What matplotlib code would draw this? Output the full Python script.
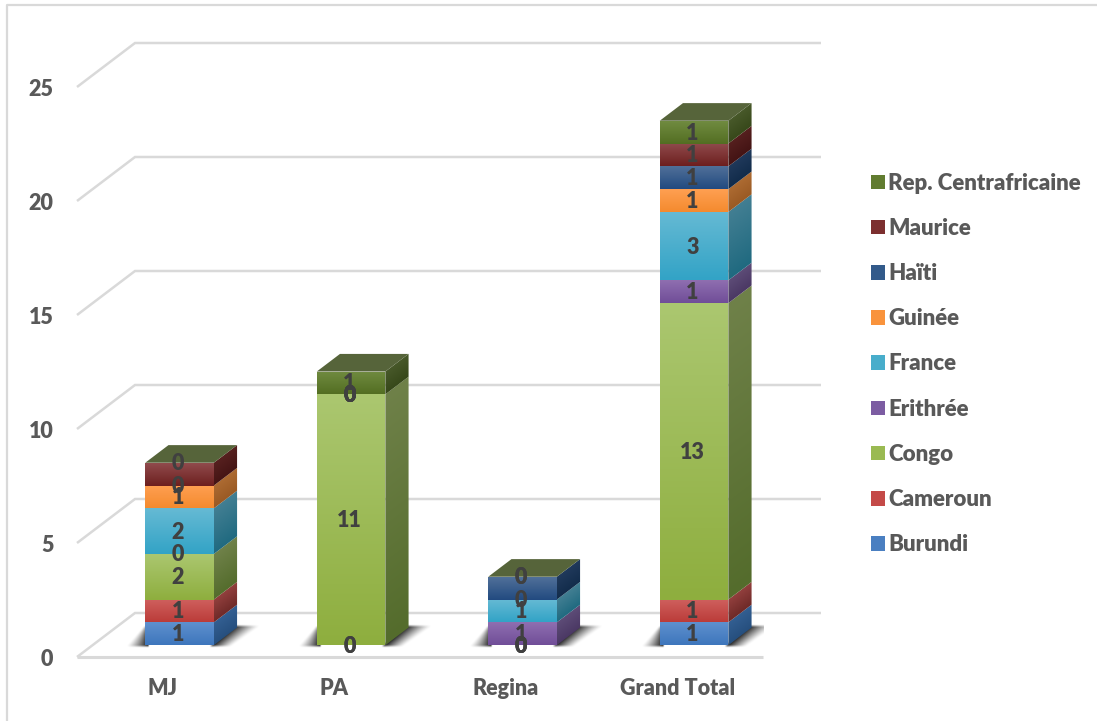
import numpy as np
import matplotlib
matplotlib.use('Agg')
import matplotlib.pyplot as plt
from matplotlib.colors import to_rgb
from matplotlib.lines import Line2D
from matplotlib.patches import Patch, Polygon

plt.rcParams['font.family'] = ['Lato', 'DejaVu Sans']
plt.rcParams['font.weight'] = 'heavy'

categories = ['MJ', 'PA', 'Regina', 'Grand Total']
y_ticks = [0, 5, 10, 15, 20, 25]

burundi = [1, 0, 0, 1]
cameroun = [1, 0, 0, 1]
congo = [2, 11, 0, 13]
erithree = [0, 0, 1, 1]
france = [2, 0, 1, 3]
guinee = [1, 0, 0, 1]
haiti = [0, 0, 1, 1]
maurice = [1, 0, 0, 1]
rep = [0, 1, 0, 1]

names = ['Burundi', 'Cameroun', 'Congo', 'Erithrée', 'France', 'Guinée', 'Haïti', 'Maurice',
         'Rep. Centrafricaine']
series = [burundi, cameroun, congo, erithree, france, guinee, haiti, maurice, rep]

# front top, front bottom, side top, side bottom
colors = [('#5f90ce', '#3d76bc', '#335f92', '#264f7e'),
          ('#cf605e', '#bb3c39', '#93403e', '#6f2a28'),
          ('#abc770', '#8eae3e', '#6f8149', '#546c2c'),
          ('#8f6fb0', '#704d98', '#5d4c77', '#4b3864'),
          ('#66bad4', '#32a3c6', '#437f93', '#206a80'),
          ('#ffa052', '#f48a2e', '#ad6b32', '#9a5a24'),
          ('#517099', '#214a80', '#20395b', '#122c4b'),
          ('#904b4d', '#6d1f1e', '#56201f', '#441414'),
          ('#708b40', '#536e22', '#48592a', '#37481a')]
top_color = '#56643a'
legend_colors = ['#4a7fc1', '#c44a48', '#9aba52', '#7c5ca2', '#48adcb', '#f9933c', '#325a8a', '#7c2f2f',
                 '#617c30']
grid_color = '#d9d9d9'
text_color = '#595959'
label_color = '#404040'

# labels missing in the original chart
hidden = [(0, 7), (2, 6)]

# depth of the 3d floor in data units
dx = 58 / 171.5
dy = 44 / 22.8
d0 = 0.29
d1 = 0.69
base = 0.27 * dy
width = 0.40
shift_x = (d1 - d0) * dx
shift_y = (d1 - d0) * dy


def gradient(ax, pts, c0, c1, shear=0.0):
    # fill polygon with a top to bottom gradient, shear follows the slope of side faces
    pts = np.array(pts)
    x0, x1 = pts[:, 0].min(), pts[:, 0].max()
    y0, y1 = pts[:, 1].min(), pts[:, 1].max()
    xs = np.linspace(x0, x1, 40)
    ys = np.linspace(y1, y0, 300)
    xx, yy = np.meshgrid(xs, ys)
    height = (y1 - y0) - shear * (x1 - x0)
    t = np.clip((y1 - yy - shear * (x1 - xx)) / height, 0, 1)[..., None]
    img = (1 - t) * np.array(to_rgb(c0)) + t * np.array(to_rgb(c1))
    im = ax.imshow(img, extent=(x0, x1, y0, y1), aspect='auto', zorder=3, interpolation='bilinear')
    poly = Polygon(pts, closed=True, transform=ax.transData)
    im.set_clip_path(poly)
    im.set_clip_box(None)


def shadow(ax, y0, y1, edge0, edge1, outer0, outer1):
    # soft shadow, dark along the edge line and fading out to the outer line
    lo = min(edge0, edge1, outer0, outer1) - 0.03
    hi = max(edge0, edge1, outer0, outer1) + 0.03
    top = y1 + 0.2
    bot = y0 - 0.2
    xs = np.linspace(lo, hi, 160)
    ys = np.linspace(top, bot, 80)
    xx, yy = np.meshgrid(xs, ys)
    f = (yy - y0) / (y1 - y0)
    edge = edge0 + f * (edge1 - edge0)
    outer = outer0 + f * (outer1 - outer0)
    u = (xx - edge) / (outer - edge)
    inside = (u >= 0) & (u <= 1) & (f >= 0) & (f <= 1)
    a = np.where(inside, 0.95 * (1 - np.clip(u, 0, 1)) ** 1.2, 0)
    kernel = np.ones(7) / 7
    a = np.apply_along_axis(lambda m: np.convolve(m, kernel, mode='same'), 0, a)
    a = np.apply_along_axis(lambda m: np.convolve(m, kernel, mode='same'), 1, a)
    img = np.zeros(xx.shape + (4,))
    img[..., 3] = a
    im = ax.imshow(img, extent=(lo, hi, bot, top), aspect='auto', zorder=2, interpolation='bilinear')
    im.set_clip_box(None)


fig = plt.figure(figsize=(10.97, 7.21), dpi=100)
ax = fig.add_axes([77 / 1097, 64 / 721, 686 / 1097, 570 / 721])
for s in ax.spines.values():
    s.set_visible(False)

# walls
for v in y_ticks:
    ax.plot([0, dx, 4 + dx], [v, v + dy, v + dy], color=grid_color, lw=1.8, clip_on=False, zorder=1,
            solid_capstyle='butt', solid_joinstyle='miter')
ax.plot([0, 4], [0, 0], color=grid_color, lw=2.2, clip_on=False, zorder=1, solid_capstyle='butt')

bottoms = np.zeros(len(categories))
totals = np.sum(series, axis=0)
slots = np.arange(len(categories)) + 0.5
centers = slots + d0 * dx

# shadows on the floor
for c in centers:
    l = c - width / 2
    r = c + width / 2
    shadow(ax, base - 0.05, base + shift_y + 0.08, r - 0.02, r + shift_x - 0.02, r + 0.10, r + 0.27)
    shadow(ax, base - 0.05, base + 0.8, l + 0.02, l + 0.02, l - 0.11, l - 0.01)

for j, vals in enumerate(series):
    for i, v in enumerate(vals):
        if v == 0:
            continue
        l = centers[i] - width / 2
        r = centers[i] + width / 2
        b = bottoms[i] + base
        t = b + v
        gradient(ax, [(l, b), (r, b), (r, t), (l, t)], colors[j][0], colors[j][1])
        gradient(ax, [(r, b), (r + shift_x, b + shift_y), (r + shift_x, t + shift_y), (r, t)],
                 colors[j][2], colors[j][3], shear=shift_y / shift_x)
    bottoms = bottoms + np.array(vals)

# top faces
for i, c in enumerate(centers):
    l = c - width / 2
    r = c + width / 2
    t = totals[i] + base
    ax.add_patch(Polygon([(l, t), (r, t), (r + shift_x, t + shift_y), (l + shift_x, t + shift_y)],
                         facecolor=top_color, edgecolor='none', zorder=4, clip_on=False))

# data labels, zeros included like in the original
bottoms = np.zeros(len(categories))
for j, vals in enumerate(series):
    for i, v in enumerate(vals):
        if (i, j) not in hidden:
            ax.text(centers[i] - 0.009, bottoms[i] + v / 2 + base - 0.04, str(v), ha='center', va='center',
                    fontsize=15.5, color=label_color, zorder=6, clip_on=False)
    bottoms = bottoms + np.array(vals)

ax.set_xlim(0, 4)
ax.set_ylim(0, 25)
ax.set_xticks(slots)
ax.set_xticklabels(categories, fontsize=15.5, color=text_color)
ax.set_yticks(y_ticks)
ax.set_yticklabels([str(v) for v in y_ticks], fontsize=15.5, color=text_color)
ax.tick_params(axis='both', length=0)
ax.tick_params(axis='x', pad=15)
ax.tick_params(axis='y', pad=17)

handles = [Patch(facecolor=c, edgecolor='none') for c in legend_colors[::-1]]
fig.legend(handles, names[::-1], loc='center left', bbox_to_anchor=(871 / 1097, 1 - 364 / 721), frameon=False,
           fontsize=16, labelcolor=text_color, handlelength=0.63, handleheight=0.63, handletextpad=0.15,
           labelspacing=1.09, borderpad=0, borderaxespad=0)

# chart border, only left and top show
fig.add_artist(Line2D([6.5 / 1097, 6.5 / 1097, 1], [0, 1 - 5 / 721, 1 - 5 / 721], color=grid_color, lw=1.6))

fig.savefig('out.png', dpi=100)
